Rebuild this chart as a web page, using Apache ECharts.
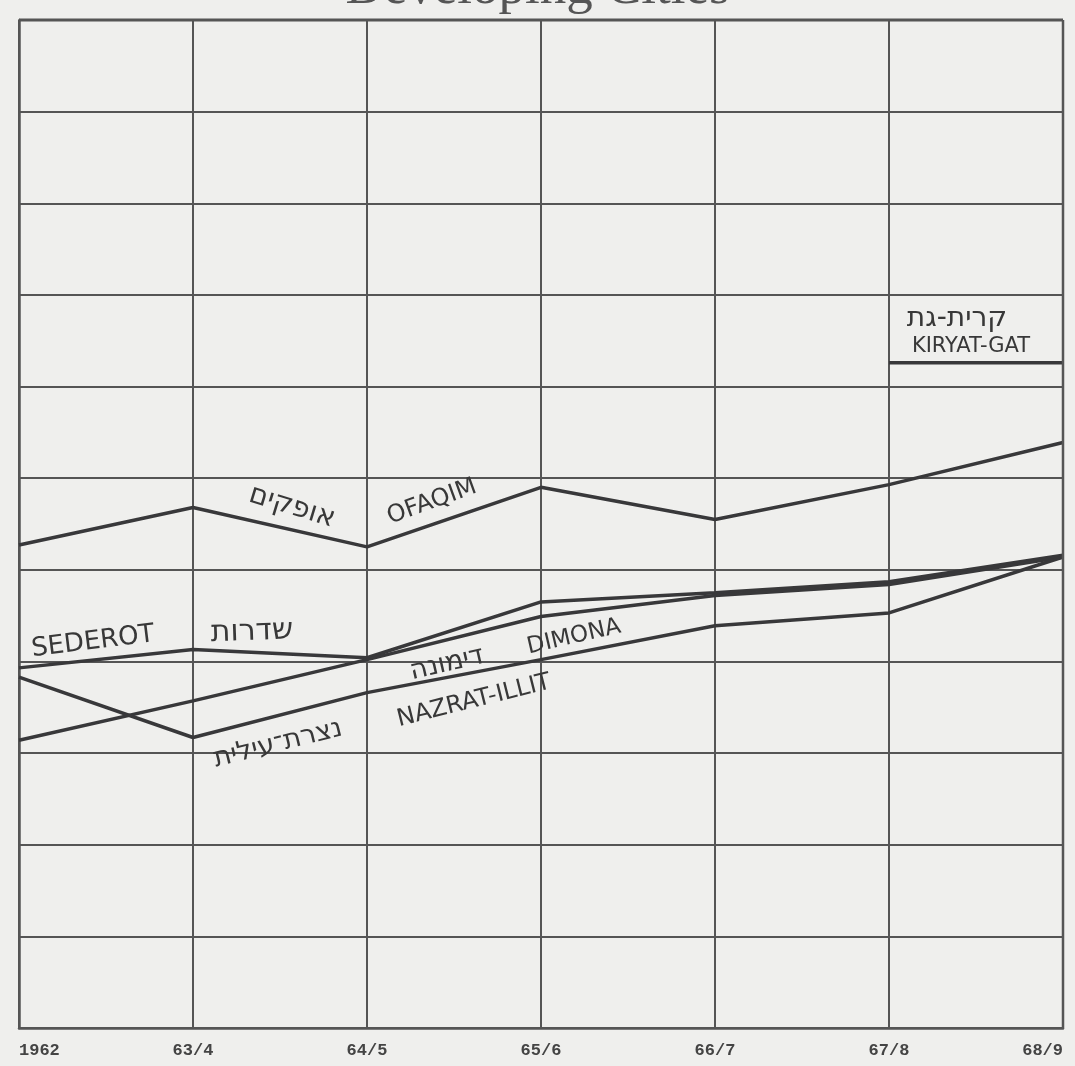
<!DOCTYPE html>
<html><head><meta charset="utf-8">
<script src="https://cdn.jsdelivr.net/npm/echarts@6/dist/echarts.min.js"></script>
<style>html,body{margin:0;padding:0;background:#efefed;}#c{width:1075px;height:1066px;}</style>
</head><body><div id="c"></div>
<script>
const categories = ['1962','63/4','64/5','65/6','66/7','67/8','68/9'];
const ofaqim = [5.27, 5.68, 5.25, 5.90, 5.55, 5.93, 6.39];
const sederot = [3.93, 4.13, 4.04, 4.65, 4.75, 4.87, 5.16];
const dimona = [3.14, 3.57, 4.02, 4.49, 4.72, 4.84, 5.14];
const nazratIllit = [3.83, 3.17, 3.66, 4.02, 4.39, 4.53, 5.14];
const kiryatGat = [null, null, null, null, null, 7.26, 7.26];

const chart = echarts.init(document.getElementById('c'));
const lineColor = '#38383a';
const gridColor = '#555';
function ser(name, data){
  return {name, type:'line', data, symbol:'none', connectNulls:false,
    lineStyle:{color:lineColor, width:3.5}, z:3};
}
const labelFont = 'DejaVu Sans, sans-serif';
function lbl(text, x, y, rotDeg, size){
  return {type:'text', x, y, rotation: rotDeg*Math.PI/180, z:10,
    style:{text, fill:'#383838', font:'500 '+size+'px '+labelFont, textAlign:'center', textVerticalAlign:'middle'}};
}
chart.setOption({
  backgroundColor:'#efefed',
  animation:false,
  title:{text:'Developing Cities', left:'center', top:-42,
    textStyle:{fontFamily:'Liberation Serif, serif', fontWeight:'normal', fontSize:53, color:'#555'}},
  grid:{left:19, right:12, top:20, bottom:38},
  xAxis:{type:'category', data:categories, boundaryGap:false,
    axisLine:{show:true, lineStyle:{color:gridColor, width:2.5}},
    axisTick:{show:false},
    axisLabel:{show:true, margin:14, color:'#444', fontFamily:'Liberation Mono, monospace', fontWeight:'bold', fontSize:17,
      alignMinLabel:'left', alignMaxLabel:'right'},
    splitLine:{show:true, lineStyle:{color:gridColor, width:2}}},
  yAxis:{type:'value', min:0, max:11, interval:1,
    axisLine:{show:true, lineStyle:{color:gridColor, width:2.5}},
    axisTick:{show:false}, axisLabel:{show:false},
    splitLine:{show:true, lineStyle:{color:gridColor, width:2}}},
  series:[ser('OFAQIM', ofaqim), ser('SEDEROT', sederot), ser('DIMONA', dimona),
    ser('NAZRAT-ILLIT', nazratIllit), ser('KIRYAT-GAT', kiryatGat)],
  graphic:[
    {type:'line', shape:{x1:1063, y1:20, x2:1063, y2:1028}, style:{stroke:gridColor, lineWidth:2.5}, z:4},
    {type:'line', shape:{x1:19, y1:20, x2:1063, y2:20}, style:{stroke:gridColor, lineWidth:3}, z:4},
    lbl('SEDEROT', 93, 642, 7, 26),
    lbl('שדרות', 252, 632, 2, 30),
    lbl('אופקים', 292, 507, -17, 28),
    lbl('OFAQIM', 432, 502, 20, 24),
    lbl('דימונה', 447, 664, 13, 27),
    lbl('DIMONA', 574, 637, 13, 23),
    lbl('נצרת־עילית', 278, 744, 14, 27),
    lbl('NAZRAT-ILLIT', 474, 701, 14, 24),
    lbl('קרית-גת', 957, 319, 0, 28),
    lbl('KIRYAT-GAT', 971, 347, 0, 21)
  ]
});
</script></body></html>
